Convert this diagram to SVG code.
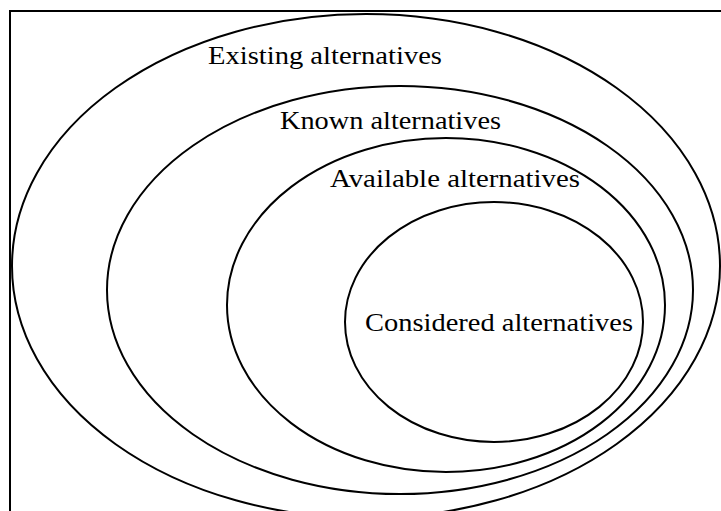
<svg xmlns="http://www.w3.org/2000/svg" width="721" height="511" viewBox="0 0 721 511">
<style>
.e{fill:none;stroke:#000;stroke-width:2}
.t{font-family:"Liberation Serif","Times New Roman",serif;font-size:26px;fill:#000}
</style>
<rect x="0" y="0" width="721" height="511" fill="#fff"/>
<rect x="10" y="11" width="730" height="530" fill="none" stroke="#000" stroke-width="2"/>
<g id="existing">
<ellipse class="e" cx="366" cy="266" rx="354" ry="252"/>
<text class="t" x="208" y="64" textLength="234" lengthAdjust="spacingAndGlyphs">Existing alternatives</text>
</g>
<g id="known">
<ellipse class="e" cx="400" cy="290" rx="293" ry="204"/>
<text class="t" x="280" y="129" textLength="221" lengthAdjust="spacingAndGlyphs">Known alternatives</text>
</g>
<g id="available">
<ellipse class="e" cx="446" cy="305" rx="219" ry="167"/>
<text class="t" x="330" y="187" textLength="250" lengthAdjust="spacingAndGlyphs">Available alternatives</text>
</g>
<g id="considered">
<ellipse class="e" cx="494" cy="322" rx="149" ry="120"/>
<text class="t" x="365" y="331" textLength="268" lengthAdjust="spacingAndGlyphs">Considered alternatives</text>
</g>
<g id="connectors"></g>
</svg>
